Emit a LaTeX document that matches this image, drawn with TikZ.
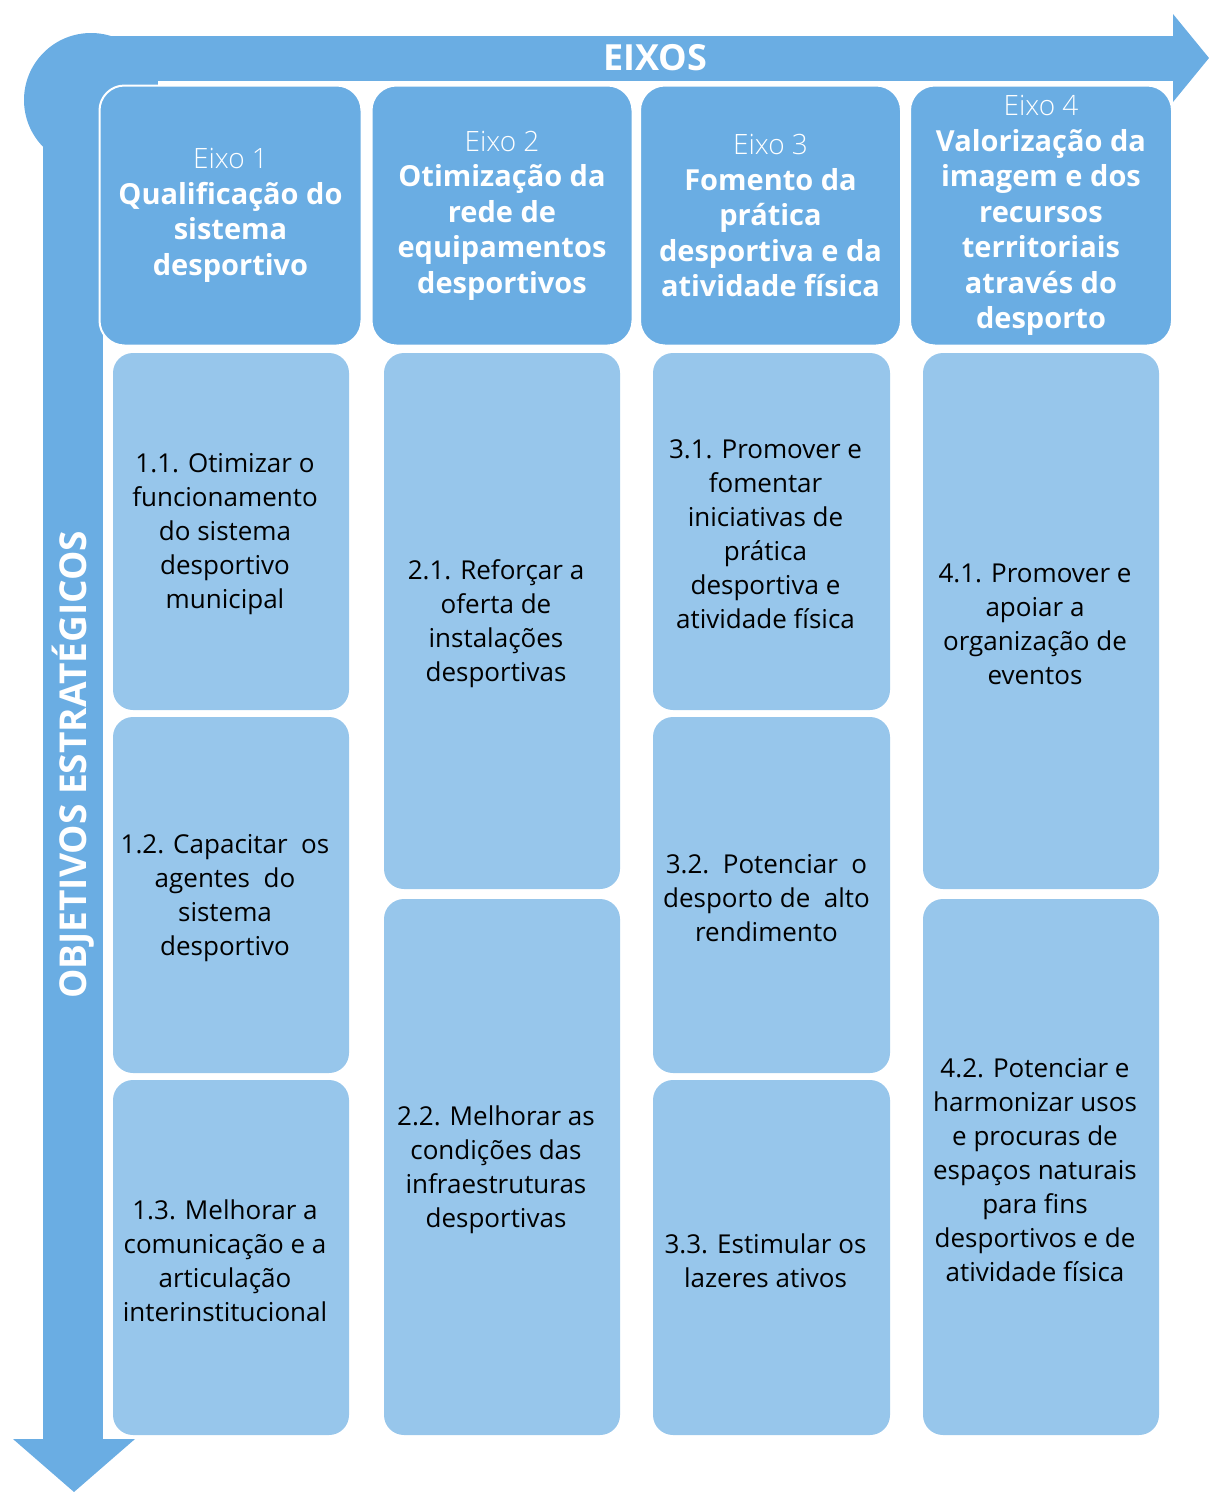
\documentclass[tikz,border=0pt]{standalone}
\usepackage{fontspec}
\setmainfont{Open Sans}
\newfontfamily\lightf{Open Sans Light}
\definecolor{dark}{HTML}{6AADE3}
\definecolor{light}{HTML}{97C6EB}
\tikzset{
  x=1pt,y=-1pt,
  head/.style={fill=dark, draw=white, line width=2pt, rounded corners=25pt, text=white, align=center, inner sep=0pt, font=\fontsize{29}{35.5}\selectfont},
  obj/.style={fill=light, rounded corners=20pt, inner sep=0pt},
  objtext/.style={text=black, align=center, inner sep=0pt, font=\fontsize{26}{34}\selectfont}
}
\newcommand{\hb}[1]{{\bfseries #1}}
\newcommand{\ex}[1]{{\lightf\fontsize{28}{35.5}\selectfont #1}}
\begin{document}
\begin{tikzpicture}
\useasboundingbox (0,0) rectangle (1209,1492);
% L-shaped arrow
\fill[dark] (91,100) circle (67);
\fill[dark] (91,36) rectangle (1173,81);
\fill[dark] (91,36) rectangle (158,100);
\fill[dark] (43,100) rectangle (103,1440);
\fill[dark] (1173,14) -- (1209,58) -- (1173,102) -- cycle;
\fill[dark] (13,1439) -- (135,1439) -- (74,1492) -- cycle;
\node[text=white, font=\fontsize{36}{40}\selectfont\bfseries] (eixos) at (655,58) {EIXOS};
\node[text=white, rotate=90, font=\fontsize{37}{40}\selectfont\bfseries] (obj) at (73,765) {OBJETIVOS ESTRATÉGICOS};
% headers
\node[head, minimum width=262, minimum height=260] (h1) at (230.5,215.5) {\ex{Eixo 1}\\ \hb{Qualificação do}\\ \hb{sistema}\\ \hb{desportivo}};
\node[head, minimum width=261, minimum height=260] (h2) at (502,215.5) {\ex{Eixo 2}\\ \hb{Otimização da}\\ \hb{rede de}\\ \hb{equipamentos}\\ \hb{desportivos}};
\node[head, minimum width=261, minimum height=260] (h3) at (770.5,215.5) {\ex{Eixo 3}\\ \hb{Fomento da}\\ \hb{prática}\\ \hb{desportiva e da}\\ \hb{atividade física}};
\node[head, minimum width=262, minimum height=260] (h4) at (1041,215.5) {\ex{Eixo 4}\\ \hb{Valorização da}\\ \hb{imagem e dos}\\ \hb{recursos}\\ \hb{territoriais}\\ \hb{através do}\\ \hb{desporto}};
% boxes
\node[obj, minimum width=236, minimum height=357] (o11) at (231,531.5) {};
\node[obj, minimum width=236, minimum height=356] (o12) at (231,895) {};
\node[obj, minimum width=236, minimum height=355] (o13) at (231,1257.5) {};
\node[obj, minimum width=236, minimum height=536] (o21) at (502,621) {};
\node[obj, minimum width=236, minimum height=536] (o22) at (502,1167) {};
\node[obj, minimum width=237, minimum height=357] (o31) at (771.5,531.5) {};
\node[obj, minimum width=237, minimum height=356] (o32) at (771.5,895) {};
\node[obj, minimum width=237, minimum height=355] (o33) at (771.5,1257.5) {};
\node[obj, minimum width=236, minimum height=536] (o41) at (1041,621) {};
\node[obj, minimum width=236, minimum height=536] (o42) at (1041,1167) {};
% texts
\node[objtext] (t11) at ([xshift=-6,yshift=-3]o11.center) {1.1. Otimizar o\\funcionamento\\do sistema\\desportivo\\municipal};
\node[objtext] (t12) at ([xshift=-6,yshift=-3]o12.center) {1.2. Capacitar\ \ os\\agentes\ \ do\\sistema\\desportivo};
\node[objtext] (t13) at ([xshift=-6,yshift=-3]o13.center) {1.3. Melhorar a\\comunicação e a\\articulação\\interinstitucional};
\node[objtext] (t21) at ([xshift=-6,yshift=-3]o21.center) {2.1. Reforçar a\\oferta de\\instalações\\desportivas};
\node[objtext] (t22) at ([xshift=-6,yshift=-3]o22.center) {2.2. Melhorar as\\condições das\\infraestruturas\\desportivas};
\node[objtext] (t31) at ([xshift=-6,yshift=-3]o31.center) {3.1. Promover e\\fomentar\\iniciativas de\\prática\\desportiva e\\atividade física};
\node[objtext] (t32) at ([xshift=-5,yshift=-3]o32.center) {3.2.\ \ Potenciar\ \ o\\desporto de\ \ alto\\rendimento};
\node[objtext] (t33) at ([xshift=-6,yshift=-3]o33.center) {3.3. Estimular os\\lazeres ativos};
\node[objtext] (t41) at ([xshift=-6,yshift=-3]o41.center) {4.1. Promover e\\apoiar a\\organização de\\eventos};
\node[objtext] (t42) at ([xshift=-6,yshift=-3]o42.center) {4.2. Potenciar e\\harmonizar usos\\e procuras de\\espaços naturais\\para fins\\desportivos e de\\atividade física};
\end{tikzpicture}
\end{document}
